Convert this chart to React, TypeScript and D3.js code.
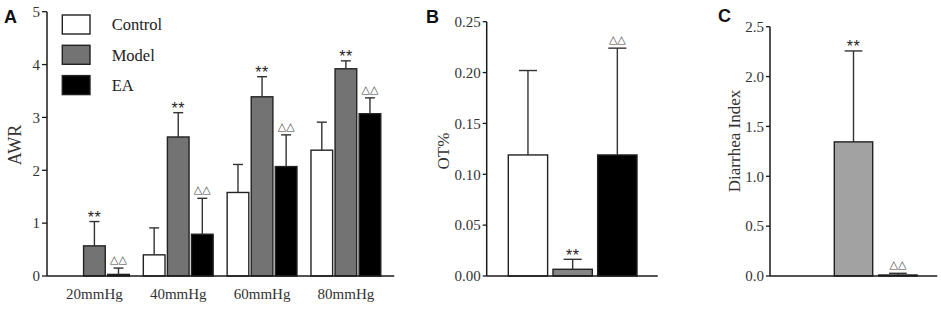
import React from "react";
import * as d3 from "d3";

// ---------- data ----------
const pressures = ["20mmHg", "40mmHg", "60mmHg", "80mmHg"];
const groups = ["Control", "Model", "EA"];

const awrControl = [0, 0.4, 1.58, 2.38];
const awrControlSD = [0, 0.51, 0.53, 0.53];
const awrModel = [0.57, 2.63, 3.39, 3.92];
const awrModelSD = [0.46, 0.46, 0.38, 0.15];
const awrEA = [0.03, 0.79, 2.07, 3.07];
const awrEASD = [0.12, 0.68, 0.6, 0.3];
const awrMarks = ["", "**", "△△"];
const awrTicks = [0, 1, 2, 3, 4, 5];

const otValues = [0.119, 0.0066, 0.119];
const otSD = [0.083, 0.0098, 0.105];
const otMarks = ["", "**", "△△"];
const otTicks = [0, 0.05, 0.1, 0.15, 0.2, 0.25];

const diarrheaValues = [0, 1.345, 0.01];
const diarrheaSD = [0, 0.912, 0.017];
const diarrheaMarks = ["", "**", "△△"];
const diarrheaTicks = [0, 0.5, 1.0, 1.5, 2.0, 2.5];

// ---------- styles ----------
const SERIF = "'Liberation Serif', 'Times New Roman', serif";
const SANS = "'Liberation Sans', Arial, sans-serif";
const AXIS = "#1a1a1a";
const STROKE = "#222";
const fillsA = ["#ffffff", "#737373", "#000000"];
const fillsB = ["#ffffff", "#858585", "#000000"];
const fillsC = ["#ffffff", "#a2a2a2", "#000000"];

type BarSpec = { x: number; w: number; v: number; sd: number; fill: string; mark: string };

function Bars({ bars, y }: { bars: BarSpec[]; y: d3.ScaleLinear<number, number> }) {
  return (
    <g>
      {bars.map((b, i) => {
        const cx = b.x + b.w / 2;
        const top = y(b.v);
        const errTop = y(b.v + b.sd);
        const capHalf = b.w * 0.23;
        const y0 = y(0);
        return (
          <g key={i}>
            {b.v > 0 && (
              <rect x={b.x} y={top} width={b.w} height={y0 - top} fill={b.fill} stroke={STROKE} strokeWidth={1.4} />
            )}
            {b.sd > 0 && (
              <g stroke="#333" strokeWidth={1.4}>
                <line x1={cx} x2={cx} y1={top} y2={errTop} />
                <line x1={cx - capHalf} x2={cx + capHalf} y1={errTop} y2={errTop} />
              </g>
            )}
            {b.mark === "**" && (
              <text x={cx} y={errTop + 1.5} textAnchor="middle" fontFamily={SANS} fontSize={16} letterSpacing={0.5} fill="#222">
                **
              </text>
            )}
            {b.mark === "△△" && (
              <text x={cx} y={errTop - 5} textAnchor="middle" fontFamily="'DejaVu Sans', sans-serif" fontSize={11} fill="#444">
                △△
              </text>
            )}
          </g>
        );
      })}
    </g>
  );
}

function YAxis({ x, y, ticks, fmt, tickLen, pad }: { x: number; y: d3.ScaleLinear<number, number>; ticks: number[]; fmt: (v: number) => string; tickLen: number; pad: number }) {
  const [d0, d1] = y.domain();
  return (
    <g>
      <line x1={x} x2={x} y1={y(d0)} y2={y(d1)} stroke={AXIS} strokeWidth={1.5} />
      {ticks.map((t) => (
        <g key={t}>
          <line x1={x - tickLen} x2={x} y1={y(t)} y2={y(t)} stroke={AXIS} strokeWidth={1.3} />
          <text x={x - tickLen - pad} y={y(t)} dy="0.35em" textAnchor="end" fontFamily={SERIF} fontSize={15} fill="#333">
            {fmt(t)}
          </text>
        </g>
      ))}
    </g>
  );
}

export default function App() {
  const baseY = 276;

  // Panel A
  const yA = d3.scaleLinear().domain([0, 5]).range([baseY, 11.7]);
  const xA = d3.scaleBand<string>().domain(pressures).range([59.5, 380.8]).paddingInner(0.167).paddingOuter(0);
  const xAin = d3.scaleBand<string>().domain(groups).range([0, xA.bandwidth()]).paddingInner(0.1);
  const seriesA = [
    { v: awrControl, sd: awrControlSD },
    { v: awrModel, sd: awrModelSD },
    { v: awrEA, sd: awrEASD },
  ];
  const barsA: BarSpec[] = [];
  pressures.forEach((p, pi) => {
    groups.forEach((g, gi) => {
      barsA.push({
        x: (xA(p) as number) + (xAin(g) as number),
        w: xAin.bandwidth(),
        v: seriesA[gi].v[pi],
        sd: seriesA[gi].sd[pi],
        fill: fillsA[gi],
        mark: awrMarks[gi],
      });
    });
  });

  // Panel B
  const yB = d3.scaleLinear().domain([0, 0.25]).range([baseY, 21.7]);
  const xB = d3.scaleBand<string>().domain(groups).range([508.3, 637]).paddingInner(0.12).paddingOuter(0);
  const barsB: BarSpec[] = groups.map((g, i) => ({
    x: xB(g) as number,
    w: xB.bandwidth(),
    v: otValues[i],
    sd: otSD[i],
    fill: fillsB[i],
    mark: otMarks[i],
  }));

  // Panel C
  const yC = d3.scaleLinear().domain([0, 2.5]).range([baseY, 26.7]);
  const xC = d3.scaleBand<string>().domain(groups).range([789.9, 917.1]).paddingInner(0.135).paddingOuter(0);
  const barsC: BarSpec[] = groups.map((g, i) => ({
    x: xC(g) as number,
    w: xC.bandwidth(),
    v: diarrheaValues[i],
    sd: diarrheaSD[i],
    fill: fillsC[i],
    mark: diarrheaMarks[i],
  }));

  const fInt = d3.format("d");
  const f2 = d3.format(".2f");
  const f1 = d3.format(".1f");

  return (
    <svg width={941} height={311} style={{ position: "absolute", left: 0, top: 0, background: "#fff" }}>
      <rect width={941} height={311} fill="#fff" />

      {/* Panel labels */}
      <text x={4} y={23} fontFamily={SANS} fontWeight="bold" fontSize={18} fill="#111">A</text>
      <text x={426} y={22.5} fontFamily={SANS} fontWeight="bold" fontSize={18} fill="#111">B</text>
      <text x={718} y={21.5} fontFamily={SANS} fontWeight="bold" fontSize={18} fill="#111">C</text>

      {/* Panel A */}
      <Bars bars={barsA} y={yA} />
      <YAxis x={47} y={yA} ticks={awrTicks} fmt={fInt} tickLen={5} pad={2} />
      <line x1={47} x2={394.3} y1={baseY} y2={baseY} stroke={AXIS} strokeWidth={1.5} />
      {pressures.map((p) => (
        <text key={p} x={(xA(p) as number) + xA.bandwidth() / 2} y={299} textAnchor="middle" fontFamily={SERIF} fontSize={15} fill="#333">
          {p}
        </text>
      ))}
      <text transform="translate(21,145) rotate(-90)" textAnchor="middle" fontFamily={SERIF} fontSize={18} fill="#333">AWR</text>
      {/* legend */}
      {groups.map((g, i) => (
        <g key={g} transform={`translate(62.3, ${15 + i * 30.3})`}>
          <rect width={27.7} height={19} fill={fillsA[i]} stroke={STROKE} strokeWidth={1.4} />
          <text x={49.4} y={15.3} fontFamily={SERIF} fontSize={16.5} fill="#222">{g}</text>
        </g>
      ))}

      {/* Panel B */}
      <Bars bars={barsB} y={yB} />
      <YAxis x={486.7} y={yB} ticks={otTicks} fmt={f2} tickLen={4} pad={2} />
      <line x1={486.7} x2={657.7} y1={baseY} y2={baseY} stroke={AXIS} strokeWidth={1.5} />
      <text transform="translate(448.5,151) rotate(-90)" textAnchor="middle" fontFamily={SERIF} fontSize={17} fill="#333">OT%</text>

      {/* Panel C */}
      <Bars bars={barsC} y={yC} />
      <YAxis x={770} y={yC} ticks={diarrheaTicks} fmt={f1} tickLen={4} pad={2} />
      <line x1={770} x2={937.3} y1={baseY} y2={baseY} stroke={AXIS} strokeWidth={1.5} />
      <text transform="translate(740,141) rotate(-90)" textAnchor="middle" fontFamily={SERIF} fontSize={17} fill="#333">Diarrhea Index</text>
    </svg>
  );
}
